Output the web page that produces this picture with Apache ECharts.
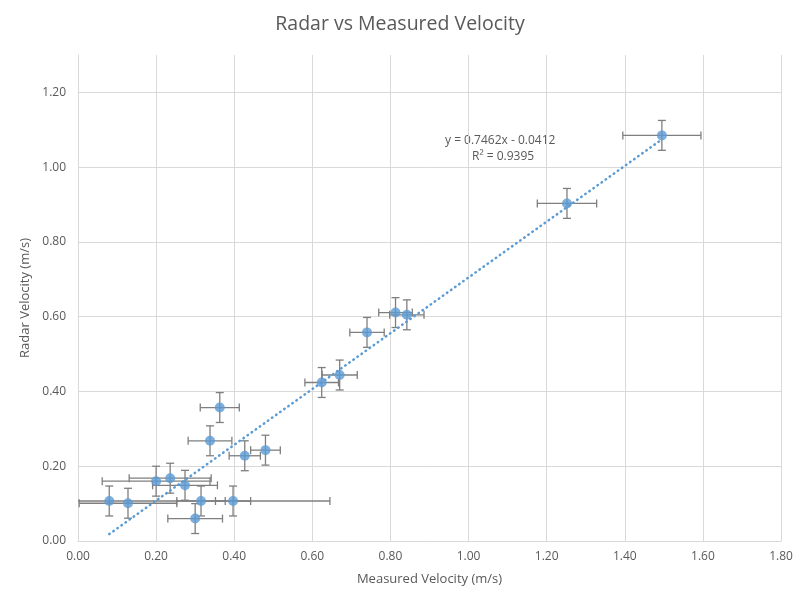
<!DOCTYPE html>
<html>
<head>
<meta charset="utf-8">
<script src="https://cdn.jsdelivr.net/npm/echarts@6/dist/echarts.min.js"></script>
<style>
  html, body { margin: 0; padding: 0; background: #fff; }
  #chart { width: 800px; height: 594px; }
</style>
</head>
<body>
<div id="chart"></div>
<script>
// measured vs radar velocity
const measured = [1.495, 1.252, 0.813, 0.842, 0.740, 0.670, 0.624, 0.363, 0.338, 0.480,
                  0.427, 0.236, 0.200, 0.274, 0.080, 0.128, 0.315, 0.397, 0.300]
const radar = [1.085, 0.903, 0.611, 0.605, 0.558, 0.444, 0.424, 0.357, 0.268, 0.243,
               0.228, 0.168, 0.160, 0.149, 0.107, 0.101, 0.107, 0.107, 0.060]
const measuredErr = [0.100, 0.076, 0.043, 0.044, 0.044, 0.045, 0.043, 0.050, 0.056, 0.038,
                     0.040, 0.105, 0.138, 0.083, 0.565, 0.125, 0.062, 0.045, 0.070]
const radarErr = [0.04, 0.04, 0.04, 0.04, 0.04, 0.04, 0.04, 0.04, 0.04, 0.04,
                  0.04, 0.04, 0.04, 0.04, 0.04, 0.04, 0.04, 0.04, 0.04]

// linear trendline as printed on the chart
const slope = 0.7462
const intercept = -0.0412
const trendX = [0.08, 1.495]

const xMin = 0, xMax = 1.8
const yMin = 0, yMax = 1.3

const points = measured.map((x, i) => [x, radar[i]])
const errData = measured.map((x, i) => [x, radar[i], measuredErr[i], radarErr[i]])
const trendData = trendX.map(x => [x, slope * x + intercept])

const chart = echarts.init(document.getElementById('chart'))
const textColor = '#595959'
const gridColor = '#d9d9d9'
const errColor = '#7f7f7f'
const CAP = 4

function renderError(params, api) {
  const x = api.value(0), y = api.value(1)
  const ex = api.value(2), ey = api.value(3)
  const children = []
  const style = { stroke: errColor, lineWidth: 1.3 }
  // horizontal bar, clipped to axis range
  const xl = Math.max(x - ex, xMin), xr = Math.min(x + ex, xMax)
  const pl = api.coord([xl, y]), pr = api.coord([xr, y])
  children.push({ type: 'line', shape: { x1: pl[0], y1: pl[1], x2: pr[0], y2: pr[1] }, style })
  if (x - ex >= xMin) children.push({ type: 'line', shape: { x1: pl[0], y1: pl[1] - CAP, x2: pl[0], y2: pl[1] + CAP }, style })
  if (x + ex <= xMax) children.push({ type: 'line', shape: { x1: pr[0], y1: pr[1] - CAP, x2: pr[0], y2: pr[1] + CAP }, style })
  // vertical bar
  const yb = Math.max(y - ey, yMin), yt = Math.min(y + ey, yMax)
  const pb = api.coord([x, yb]), pt = api.coord([x, yt])
  children.push({ type: 'line', shape: { x1: pb[0], y1: pb[1], x2: pt[0], y2: pt[1] }, style })
  if (y - ey >= yMin) children.push({ type: 'line', shape: { x1: pb[0] - CAP, y1: pb[1], x2: pb[0] + CAP, y2: pb[1] }, style })
  if (y + ey <= yMax) children.push({ type: 'line', shape: { x1: pt[0] - CAP, y1: pt[1], x2: pt[0] + CAP, y2: pt[1] }, style })
  return { type: 'group', children }
}

chart.setOption({
  backgroundColor: '#fff',
  animation: false,
  textStyle: { fontFamily: 'Open Sans' },
  title: {
    text: 'Radar vs Measured Velocity',
    left: 'center',
    top: 9,
    textStyle: { color: textColor, fontSize: 19.5, fontWeight: 'normal', fontFamily: 'Open Sans' }
  },
  grid: { left: 78, right: 19, top: 55, bottom: 53 },
  xAxis: {
    type: 'value',
    min: xMin, max: xMax, interval: 0.2,
    name: 'Measured Velocity (m/s)',
    nameLocation: 'middle',
    nameGap: 32,
    nameTextStyle: { color: textColor, fontSize: 13 },
    axisLine: { show: true, lineStyle: { color: gridColor } },
    axisTick: { show: false },
    axisLabel: { color: textColor, fontSize: 12, margin: 10, formatter: v => v.toFixed(2) },
    splitLine: { show: true, lineStyle: { color: gridColor } }
  },
  yAxis: {
    type: 'value',
    min: yMin, max: yMax, interval: 0.2,
    name: 'Radar Velocity (m/s)',
    nameLocation: 'middle',
    nameGap: 42,
    nameTextStyle: { color: textColor, fontSize: 13 },
    axisLine: { show: true, lineStyle: { color: gridColor } },
    axisTick: { show: false },
    axisLabel: { color: textColor, fontSize: 12, margin: 12, showMaxLabel: false, formatter: v => v.toFixed(2) },
    splitLine: { show: true, showMaxLine: false, lineStyle: { color: gridColor } }
  },
  series: [
    {
      type: 'custom',
      renderItem: renderError,
      data: errData,
      encode: { x: 0, y: 1 },
      z: 2
    },
    {
      type: 'line',
      data: trendData,
      showSymbol: false,
      lineStyle: { color: '#5b9bd5', width: 2.5, type: [0.5, 4.5], cap: 'round' },
      z: 3
    },
    {
      type: 'scatter',
      data: points,
      symbolSize: 10,
      itemStyle: { color: '#5b9bd5' },
      z: 4
    }
  ],
  graphic: [
    {
      type: 'text',
      left: 445, top: 135,
      style: { text: 'y = 0.7462x - 0.0412', fill: textColor, fontSize: 12, fontFamily: 'Open Sans' }
    },
    {
      type: 'text',
      left: 472, top: 151,
      style: { text: 'R² = 0.9395', fill: textColor, fontSize: 12, fontFamily: 'Open Sans' }
    }
  ]
})
</script>
</body>
</html>
